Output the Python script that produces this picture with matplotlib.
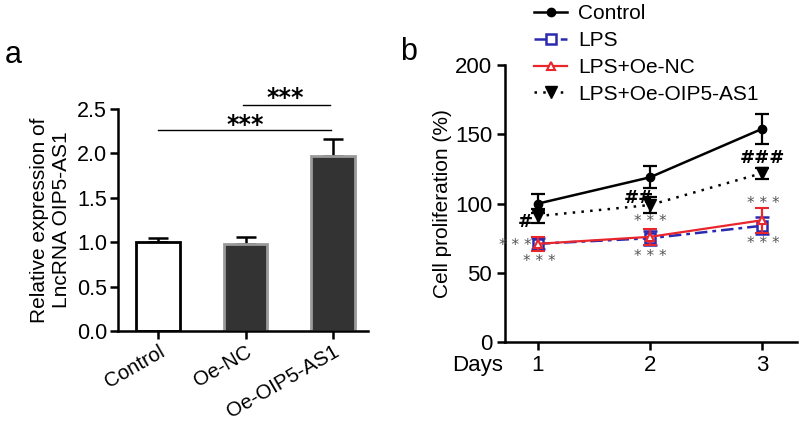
import matplotlib
matplotlib.use("Agg")
import matplotlib.pyplot as plt
from matplotlib.lines import Line2D
import numpy as np

plt.rcParams['font.family'] = ['Liberation Sans', 'DejaVu Sans']

# ---- Panel a data ----
bar_categories = ["Control", "Oe-NC", "Oe-OIP5-AS1"]
bar_values = [1.0, 0.98, 1.97]
bar_errors = [0.05, 0.08, 0.19]

# ---- Panel b data ----
days = [1, 2, 3]
control_vals = [100, 119, 154]
control_err = [7, 8, 11]
lps_vals = [71, 75, 84]
lps_err = [4, 5, 6]
lps_nc_vals = [71, 76, 88]
lps_nc_err = [5, 6, 9]
lps_oe_vals = [91, 99, 122]
lps_oe_err = [5, 6, 4]
series_labels = ["Control", "LPS", "LPS+Oe-NC", "LPS+Oe-OIP5-AS1"]

fig = plt.figure(figsize=(8, 4.26), dpi=100)

# ---------------- Panel a ----------------
axa = fig.add_axes([0.1475, 0.223, 0.3125, 0.521])
xpos = np.arange(len(bar_categories))
faces = ["white", "#333333", "#333333"]
edges = ["black", "#9a9a9a", "#9a9a9a"]
for i in range(len(bar_categories)):
    axa.bar(xpos[i], bar_values[i], width=0.5, color=faces[i],
            edgecolor=edges[i], linewidth=2, zorder=2)
    axa.errorbar(xpos[i], bar_values[i], yerr=[[0], [bar_errors[i]]],
                 color="black", capsize=7, elinewidth=1.8, capthick=1.8,
                 zorder=1)
axa.set_xlim(-0.46, 2.4)
axa.set_ylim(0, 2.5)
axa.set_yticks([0, 0.5, 1.0, 1.5, 2.0, 2.5])
axa.set_yticklabels(["0.0", "0.5", "1.0", "1.5", "2.0", "2.5"])
axa.set_xticks(xpos)
axa.set_xticklabels(bar_categories, rotation=30, ha="right",
                    rotation_mode="anchor")
axa.tick_params(axis="y", labelsize=15.5, width=1.8, length=6, pad=2)
axa.tick_params(axis="x", labelsize=14.8, width=1.8, length=6, pad=2)
for s in ["top", "right"]:
    axa.spines[s].set_visible(False)
for s in ["left", "bottom"]:
    axa.spines[s].set_linewidth(1.8)
axa.set_ylabel("Relative expression of\nLncRNA OIP5-AS1", fontsize=15,
               linespacing=1.2, labelpad=4)
# significance lines
axa.plot([0.0, 1.98], [2.26, 2.26], color="black", lw=1, clip_on=False)
axa.plot([0.97, 1.97], [2.55, 2.55], color="black", lw=1, clip_on=False)
axa.text(0.99, 2.32, "***", ha="center", va="center", fontsize=17,
         fontweight="bold", family="DejaVu Sans")
axa.text(1.45, 2.62, "***", ha="center", va="center", fontsize=17,
         fontweight="bold", family="DejaVu Sans", clip_on=False)

fig.text(0.006, 0.87, "a", fontsize=22, ha="left", va="center")
fig.text(0.5, 0.877, "b", fontsize=22, ha="left", va="center")

# ---------------- Panel b ----------------
axb = fig.add_axes([0.631, 0.197, 0.365, 0.65])
blue = "#2a2ab0"
red = "#e8262b"
dashdot = (0, (5, 2, 1.5, 2))
dotted = (0, (1, 2.5))
axb.errorbar(days, control_vals, yerr=control_err, color="black", lw=1.8,
             marker="o", markersize=6, capsize=5, capthick=1.6,
             elinewidth=1.6, zorder=5)
axb.errorbar(days, lps_vals, yerr=lps_err, color=blue, lw=1.8,
             linestyle=dashdot, marker="s", markersize=7,
             markerfacecolor="white", markeredgewidth=1.8, capsize=5,
             capthick=1.6, elinewidth=1.6, zorder=3)
axb.errorbar(days, lps_nc_vals, yerr=lps_nc_err, color=red, lw=1.6,
             marker="^", markersize=6, markerfacecolor="white",
             markeredgewidth=1.5, capsize=5, capthick=1.6, elinewidth=1.6,
             zorder=4)
axb.errorbar(days, lps_oe_vals, yerr=lps_oe_err, color="black", lw=1.8,
             linestyle=dotted, marker="v", markersize=8,
             capsize=5, capthick=1.6, elinewidth=1.6, zorder=5)
axb.set_xlim(0.705, 3.31)
axb.set_ylim(0, 200)
axb.set_yticks([0, 50, 100, 150, 200])
axb.set_xticks(days)
axb.tick_params(labelsize=16, width=1.8, length=6, pad=3)
for s in ["top", "right"]:
    axb.spines[s].set_visible(False)
for s in ["left", "bottom"]:
    axb.spines[s].set_linewidth(1.8)
axb.set_ylabel("Cell proliferation (%)", fontsize=15, labelpad=2)
axb.annotate("Days", xy=(0.69, 0), xycoords=("data", "axes fraction"),
             xytext=(0, -9), textcoords="offset points", ha="right",
             va="top", fontsize=16, annotation_clip=False)

star_kw = dict(fontsize=11, color="#555555", ha="center", va="center",
               family="DejaVu Sans", clip_on=False)
axb.text(0.8, 70, "* * *", **star_kw)
axb.text(1.01, 58, "* * *", **star_kw)
axb.text(2.0, 87, "* * *", **star_kw)
axb.text(2.0, 62, "* * *", **star_kw)
axb.text(3.01, 100, "* * *", **star_kw)
axb.text(3.01, 71, "* * *", **star_kw)
hash_kw = dict(fontsize=13, color="black", ha="center", va="center",
               family="DejaVu Sans", fontweight="bold")
axb.text(0.89, 87, "#", **hash_kw)
axb.text(1.9, 104, "##", **hash_kw)
axb.text(3.0, 133, "###", **hash_kw)

handles = [
    Line2D([], [], color="black", lw=1.8, marker="o", markersize=6),
    Line2D([], [], color=blue, lw=1.8, linestyle=dashdot, marker="s",
           markersize=7, markerfacecolor="white", markeredgewidth=1.8),
    Line2D([], [], color=red, lw=1.6, marker="^", markersize=6,
           markerfacecolor="white", markeredgewidth=1.5),
    Line2D([], [], color="black", lw=1.8, linestyle=dotted, marker="v",
           markersize=8),
]
fig.legend(handles, series_labels, loc="upper left",
           bbox_to_anchor=(0.652, 1.02), frameon=False, fontsize=15,
           handlelength=1.6, handletextpad=0.5, labelspacing=0.38,
           borderpad=0.1)

fig.savefig("out.png", dpi=100)
